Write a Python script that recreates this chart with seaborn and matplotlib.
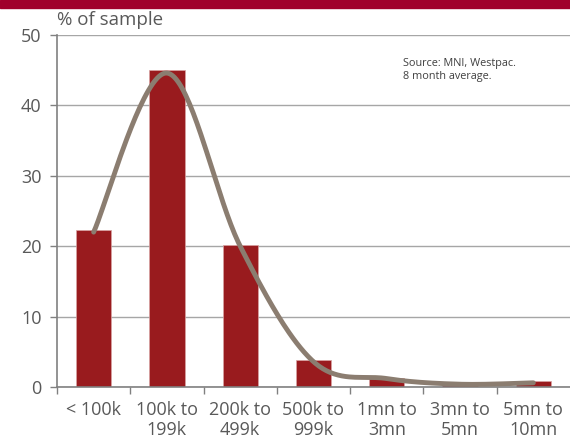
import numpy as np
import matplotlib
matplotlib.use("Agg")
import matplotlib.pyplot as plt
import seaborn as sns

# Distribution of transactions by size band
categories = ["< 100k", "100k to\n199k", "200k to\n499k", "500k to\n999k",
              "1mn to\n3mn", "3mn to\n5mn", "5mn to\n10mn"]
share = [22.3, 45.0, 20.2, 3.8, 1.3, 0.3, 0.8]
trend = [22.0, 44.6, 20.0, 3.6, 1.2, 0.4, 0.6]
y_ticks = [0, 10, 20, 30, 40, 50]

BAR = "#991B1E"
LINE = "#8B7D70"
GRID = "#A6A6A6"
TEXT = "#595959"
BAND = "#A0002B"

sns.set_theme(style="white")
plt.rcParams["font.family"] = ["Open Sans", "DejaVu Sans"]

fig = plt.figure(figsize=(5.7, 4.41), dpi=100)
ax = fig.add_axes([0.1, 0.1224, 0.9, 0.7982])

sns.barplot(x=categories, y=share, color=BAR, width=0.48, saturation=1,
            edgecolor="#D9A3A3", linewidth=0.5, ax=ax, zorder=2)


def smooth(values, n=40):
    """Catmull-Rom curve through the points, like a spreadsheet smoothed line."""
    p = np.asarray(values, float)
    x = np.arange(len(p), dtype=float)
    xs, ys = [], []
    for i in range(len(p) - 1):
        p0 = p[i - 1] if i > 0 else p[i]
        p3 = p[i + 2] if i + 2 < len(p) else p[i + 1]
        x0 = x[i - 1] if i > 0 else x[i]
        x3 = x[i + 2] if i + 2 < len(p) else x[i + 1]
        t = np.linspace(0, 1, n)
        bx = [x[i], x[i] + (x[i + 1] - x0) / 6, x[i + 1] - (x3 - x[i]) / 6, x[i + 1]]
        by = [p[i], p[i] + (p[i + 1] - p0) / 6, p[i + 1] - (p3 - p[i]) / 6, p[i + 1]]
        b = [(1 - t) ** 3, 3 * (1 - t) ** 2 * t, 3 * (1 - t) * t ** 2, t ** 3]
        xs.append(sum(c * w for c, w in zip(bx, b)))
        ys.append(sum(c * w for c, w in zip(by, b)))
    return np.concatenate(xs), np.concatenate(ys)


sx, sy = smooth(trend)
ax.plot(sx, sy, color=LINE, lw=3.5, solid_capstyle="round", zorder=3)

ax.set_xlim(-0.5, 6.5)
ax.set_ylim(0, 50)
ax.set_yticks(y_ticks)
ax.yaxis.grid(True, color=GRID, lw=1)
ax.set_axisbelow(True)

for side in ("top", "right"):
    ax.spines[side].set_visible(False)
for side in ("left", "bottom"):
    ax.spines[side].set_color("#808080")
    ax.spines[side].set_linewidth(1.2)

ax.tick_params(axis="y", which="major", length=5, width=1, color="#808080",
               labelsize=13, labelcolor=TEXT, pad=6, left=True, direction="out")
ax.set_xticks(range(len(categories)))
ax.set_xticklabels(categories, linespacing=1.12)
ax.set_xticks(np.arange(-0.5, 6.5, 1.0), minor=True)
ax.tick_params(axis="x", which="major", length=0, labelsize=13, labelcolor=TEXT, pad=10)
ax.tick_params(axis="x", which="minor", length=5, width=1, color="#808080",
               bottom=True, direction="out")
ax.set_xlabel("")
ax.set_ylabel("")

fig.text(0.1, 0.935, "% of sample", fontsize=13.5, color=TEXT, ha="left", va="bottom")
ax.text(0.675, 0.935, "Source: MNI, Westpac.\n8 month average.", transform=ax.transAxes,
        fontsize=7.8, color="#404040", ha="left", va="top", linespacing=1.25)

fig.patches.append(plt.Rectangle((0, 1 - 8 / 441), 1, 8 / 441, transform=fig.transFigure,
                                 color=BAND, zorder=5))

fig.savefig("out.png", dpi=100)
